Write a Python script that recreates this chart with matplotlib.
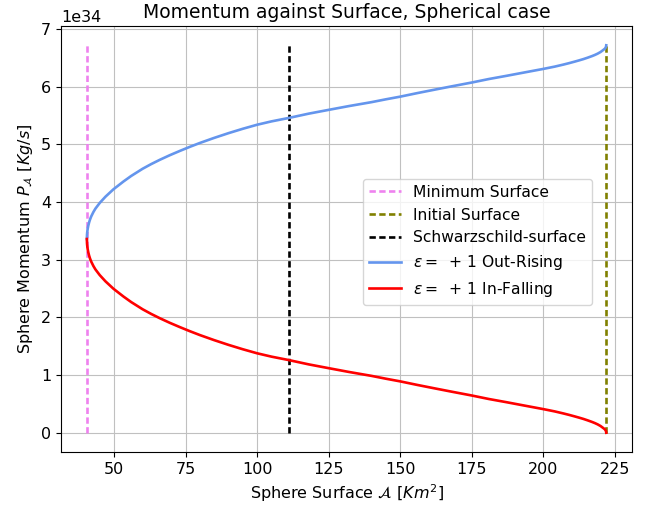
import numpy as np
import matplotlib
matplotlib.use("Agg")
import matplotlib.pyplot as plt

# surface values (Km^2)
surface = [40.5, 40.55, 40.6, 40.7, 40.8, 41.0, 41.3, 41.6, 42.0, 42.8, 43.5,
           45.0, 47.0, 49.8, 53.3, 56.0, 60.0, 63.0, 66.0, 69.5, 73.0, 76.5,
           80.0, 85.0, 90.0, 95.0, 100.0, 105.0, 111.0, 118.0, 125.0, 132.0,
           140.0, 145.0, 150.0, 156.0, 162.0, 168.0, 175.0, 181.0, 187.0,
           193.0, 200.0, 204.0, 207.0, 209.0, 211.0, 212.5, 214.0, 215.5,
           217.0, 218.0, 219.0, 220.0, 221.0, 221.5, 221.8, 221.95, 222.0]

# momentum, units of 1e34 Kg/s
out_rising = [3.360, 3.434, 3.464, 3.508, 3.541, 3.593, 3.651, 3.698, 3.750, 3.830, 3.888,
              3.986, 4.094, 4.223, 4.358, 4.454, 4.579, 4.660, 4.734, 4.814, 4.888, 4.959,
              5.026, 5.114, 5.196, 5.272, 5.342, 5.400, 5.459, 5.534, 5.600, 5.665,
              5.734, 5.783, 5.829, 5.891, 5.950, 6.008, 6.074, 6.135, 6.189,
              6.245, 6.310, 6.350, 6.385, 6.410, 6.437, 6.458, 6.480, 6.505,
              6.532, 6.552, 6.575, 6.603, 6.640, 6.660, 6.680, 6.700, 6.720]
in_falling = [3.360, 3.286, 3.256, 3.212, 3.179, 3.127, 3.069, 3.022, 2.970, 2.890, 2.832,
              2.734, 2.626, 2.497, 2.362, 2.266, 2.141, 2.060, 1.986, 1.906, 1.832, 1.761,
              1.694, 1.606, 1.524, 1.448, 1.378, 1.320, 1.261, 1.186, 1.120, 1.055,
              0.986, 0.937, 0.891, 0.829, 0.770, 0.712, 0.646, 0.585, 0.531,
              0.475, 0.410, 0.370, 0.335, 0.310, 0.283, 0.262, 0.240, 0.215,
              0.188, 0.168, 0.145, 0.117, 0.080, 0.060, 0.040, 0.020, 0.000]

min_surface = 40.5
initial_surface = 222.0
schwarzschild_surface = 111.0
p_top = 6.72

scale = 1e34
A = np.array(surface)
p_out = np.array(out_rising) * scale
p_in = np.array(in_falling) * scale

plt.rcParams["font.size"] = 11.5

fig = plt.figure(figsize=(6.62, 5.08), dpi=100)
ax = fig.add_axes([0.092, 0.110, 0.863, 0.839])

dash = (2.4, 1.3)
ax.plot([min_surface, min_surface], [0, p_top * scale], "--", dashes=dash,
        color="violet", lw=1.9, label="Minimum Surface")
ax.plot([initial_surface, initial_surface], [0, p_top * scale], "--", dashes=dash,
        color="olive", lw=1.9, label="Initial Surface")
ax.plot([schwarzschild_surface, schwarzschild_surface], [0, p_top * scale], "--",
        dashes=dash, color="black", lw=1.9, label="Schwarzschild-surface")
ax.plot(A, p_out, color="cornflowerblue", lw=1.9, label=r"$\varepsilon =\ +\,1$ Out-Rising")
ax.plot(A, p_in, color="red", lw=1.9, label=r"$\varepsilon =\ +\,1$ In-Falling")

ax.grid(True, color="#c0c0c0")
ax.set_xticks([50, 75, 100, 125, 150, 175, 200, 225])
ax.set_title("Momentum against Surface, Spherical case", fontsize=13.5)
ax.set_xlabel(r"Sphere Surface $\mathcal{A}$ $[Km^2]$")
ax.set_ylabel(r"Sphere Momentum $P_{\mathcal{A}}$ $[Kg/s]$")
ax.legend(loc="lower right", bbox_to_anchor=(0.93, 0.345), borderaxespad=0,
          fontsize=11.2)

fig.savefig("out.png", dpi=100)
